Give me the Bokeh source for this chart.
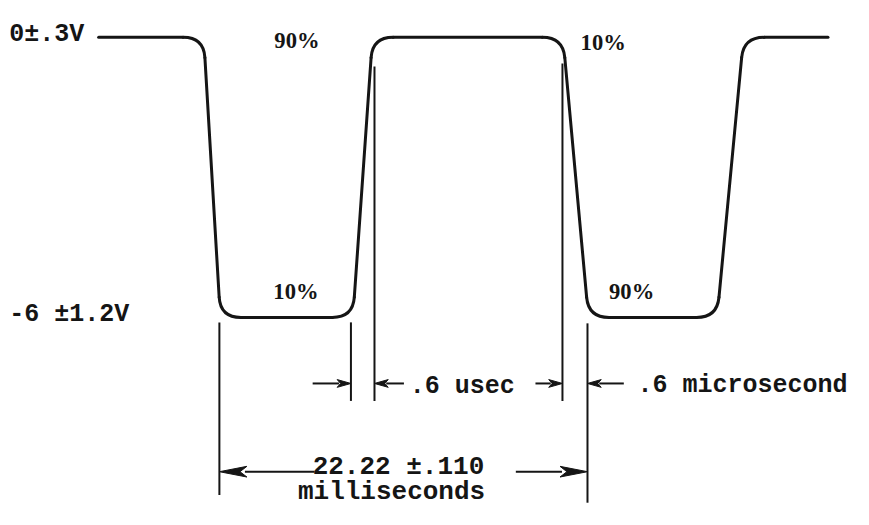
import numpy as np
from bokeh.plotting import figure
from bokeh.models import Range1d
from bokeh.core.properties import value
from bokeh.embed import file_html
from bokeh.resources import INLINE

# ---------------- data ----------------
# pulse waveform: corner vertices (schematic time units, volts)
wave_t = [100, 207, 224, 359, 379, 573, 599, 730, 757, 843]
wave_v = [0, 0, -6, -6, 0, 0, -6, -6, 0, 0]

level_labels = ["0\u00b1.3V", "-6 \u00b11.2V"]
level_values = [0, -6]

pct_labels = ["90%", "10%", "10%", "90%"]
pct_t = [302, 614, 301, 643]

# reference lines (time positions) marking 10% / 90% points and period
mark_t = [223, 357, 381, 572.5, 598]

small_dim_label = ".6 usec"
small_dim_label2 = ".6 microsecond"
big_dim_label = "22.22 \u00b1.110"
big_dim_label2 = "milliseconds"

# ---------------- layout helpers ----------------
W, H = 853, 509
REF_W, REF_H = 869, 525
TOP_PX, BOT_PX = 38.0, 327.0
PXV = (BOT_PX - TOP_PX) / 6.0          # drawing units per volt


def vy(px):
    """convert a vertical drawing position to volts"""
    return -(px - TOP_PX) / PXV


SX = W / REF_W
INK = "#151515"
MONO = value("Liberation Mono")
SERIF = value("Liberation Serif")

p = figure(width=W, height=H, output_backend="svg", toolbar_location=None,
           x_range=Range1d(0, REF_W), y_range=Range1d(vy(REF_H), vy(0)),
           x_axis_type=None, y_axis_type=None, min_border=0,
           background_fill_color="white", border_fill_color="white")
p.grid.visible = False
p.outline_line_color = None

# ---------------- waveform with rounded corners ----------------
R = 21.0
P = np.column_stack([np.array(wave_t, float), np.array(wave_v, float) * PXV])
seg_x0, seg_y0, seg_x1, seg_y1 = [], [], [], []
qx0, qy0, qx1, qy1, qcx, qcy = [], [], [], [], [], []
start = P[0]
for i in range(1, len(P) - 1):
    v = P[i]
    u_prev = (P[i - 1] - v) / np.linalg.norm(P[i - 1] - v)
    u_next = (P[i + 1] - v) / np.linalg.norm(P[i + 1] - v)
    a = v + R * u_prev
    b = v + R * u_next
    seg_x0.append(start[0]); seg_y0.append(start[1] / PXV)
    seg_x1.append(a[0]); seg_y1.append(a[1] / PXV)
    qx0.append(a[0]); qy0.append(a[1] / PXV)
    qx1.append(b[0]); qy1.append(b[1] / PXV)
    qcx.append(v[0]); qcy.append(v[1] / PXV)
    start = b
seg_x0.append(start[0]); seg_y0.append(start[1] / PXV)
seg_x1.append(P[-1][0]); seg_y1.append(P[-1][1] / PXV)

p.segment(seg_x0, seg_y0, seg_x1, seg_y1, line_color=INK, line_width=3, line_cap="round")
p.quadratic(x0=qx0, y0=qy0, x1=qx1, y1=qy1, cx=qcx, cy=qcy,
            line_color=INK, line_width=3, line_cap="round")

# ---------------- extension lines ----------------
ext_top = [vy(332), vy(332), vy(68), vy(65), vy(333)]
ext_bot = [vy(510), vy(413), vy(413), vy(413), vy(518)]
p.segment(mark_t, ext_top, mark_t, ext_bot, line_color=INK, line_width=2)

# ---------------- dimension arrows ----------------
def arrow(tip, tail, ypx, head_len, head_w):
    d = 1.0 if tail < tip else -1.0
    y = vy(ypx)
    base = tip - d * head_len
    p.segment([tail], [y], [base + d * 2], [y], line_color=INK, line_width=2)
    hw = head_w / 2.0 / PXV
    p.patch([tip, base, base + d * head_len * 0.25, base],
            [y, y + hw, y, y - hw], fill_color=INK, line_color=INK, line_width=1)

SMALL_ROW, BIG_ROW = 395, 486
arrow(mark_t[1], 318, SMALL_ROW, 14, 8)
arrow(mark_t[2], 411, SMALL_ROW, 14, 8)
arrow(mark_t[3], 545, SMALL_ROW, 14, 8)
arrow(mark_t[4], 635, SMALL_ROW, 14, 8)
arrow(mark_t[0], 320, BIG_ROW, 28, 11)
arrow(mark_t[4], 525, BIG_ROW, 28, 11)

# ---------------- texts ----------------
def mono(size):
    return dict(text_font=MONO, text_font_style="bold",
                text_font_size=f"{size * SX:.1f}px", text_color=INK,
                text_baseline="alphabetic", text_align="left")

p.text(x=[9, 9], y=[vy(35), vy(324)], text=level_labels, **mono(25.5))
p.text(x=[417], y=[vy(398)], text=[small_dim_label], **mono(25.5))
p.text(x=[649], y=[vy(397)], text=[small_dim_label2], **mono(25.5))
p.text(x=[318], y=[vy(481)], text=[big_dim_label], **mono(26.5))
p.text(x=[303], y=[vy(507)], text=[big_dim_label2], **mono(26.5))

p.text(x=pct_t, y=[vy(41), vy(43), vy(300), vy(300)], text=pct_labels,
       text_font=SERIF, text_font_style="bold", text_font_size=f"{23 * SX:.1f}px",
       text_color=INK, text_baseline="alphabetic", text_align="center")

open("out.html", "w").write(file_html(p, INLINE))
